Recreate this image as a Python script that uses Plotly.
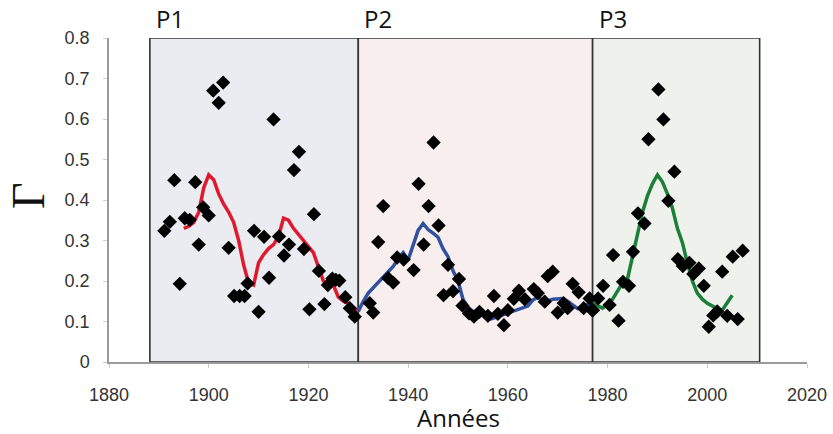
import plotly.graph_objects as go

# ---- scatter data (Gamma values per year) ----
pts_years = [1891.1, 1892.2, 1893.1, 1894.2, 1895.2, 1896.2, 1897.3, 1898.0, 1898.9, 1900.0,
             1900.9, 1902.0, 1902.9, 1904.0, 1905.1, 1906.2, 1907.2, 1907.8, 1909.1, 1910.0,
             1911.1, 1912.1, 1913.0, 1914.1, 1915.1, 1916.1, 1917.1, 1918.1, 1919.1, 1920.2,
             1921.1, 1922.1, 1923.2, 1923.9, 1924.8, 1925.5, 1926.2, 1927.4, 1928.3, 1929.3,
             1932.3, 1933.0, 1934.0, 1935.0, 1936.0, 1937.0, 1937.8, 1939.1, 1941.1, 1942.1,
             1943.1, 1944.1, 1945.1, 1946.1, 1947.1, 1948.0, 1949.0, 1950.2, 1950.9, 1952.2,
             1953.2, 1954.3, 1956.0, 1957.2, 1958.0, 1959.2, 1960.0, 1961.2, 1962.2, 1963.4,
             1965.2, 1966.0, 1967.4, 1968.0, 1969.0, 1970.0, 1971.2, 1972.0, 1973.0, 1974.2,
             1975.2, 1976.4, 1976.9,
             1977.1, 1978.1, 1979.1, 1980.4, 1981.1, 1982.2, 1983.1, 1984.3, 1985.1, 1986.1,
             1987.4, 1988.2, 1990.2, 1991.2, 1992.2, 1993.4, 1994.1, 1995.1, 1996.4, 1997.2,
             1998.3, 1999.3, 2000.3, 2001.2, 2002.0, 2003.0, 2004.0, 2005.1, 2006.1, 2007.1]
pts_values = [0.324, 0.346, 0.449, 0.193, 0.355, 0.351, 0.444, 0.290, 0.382, 0.362,
              0.670, 0.640, 0.690, 0.282, 0.163, 0.163, 0.163, 0.194, 0.324, 0.124,
              0.309, 0.208, 0.599, 0.310, 0.263, 0.290, 0.474, 0.519, 0.279, 0.130,
              0.365, 0.225, 0.143, 0.190, 0.206, 0.203, 0.201, 0.160, 0.133, 0.112,
              0.145, 0.122, 0.296, 0.385, 0.207, 0.196, 0.258, 0.253, 0.227, 0.440,
              0.290, 0.385, 0.542, 0.337, 0.165, 0.240, 0.175, 0.205, 0.139, 0.120,
              0.112, 0.124, 0.114, 0.163, 0.119, 0.091, 0.128, 0.156, 0.176, 0.155,
              0.180, 0.170, 0.149, 0.212, 0.223, 0.122, 0.145, 0.133, 0.193, 0.172,
              0.133, 0.157, 0.128,
              0.128, 0.157, 0.188, 0.141, 0.264, 0.102, 0.198, 0.188, 0.272, 0.367,
              0.342, 0.550, 0.673, 0.599, 0.398, 0.470, 0.254, 0.237, 0.245, 0.217,
              0.231, 0.188, 0.087, 0.115, 0.125, 0.223, 0.114, 0.260, 0.106, 0.275]

# ---- smoothed curves per period ----
p1_years = [1895, 1896, 1897, 1898, 1899, 1900, 1901, 1902, 1903, 1904, 1905, 1906,
            1907, 1908, 1909, 1910, 1911, 1912, 1913, 1914, 1915, 1916, 1917, 1918,
            1919, 1920, 1921, 1922, 1923, 1924, 1925, 1926, 1927, 1928, 1929, 1930]
p1_values = [0.330, 0.335, 0.345, 0.370, 0.430, 0.462, 0.450, 0.415, 0.390, 0.370, 0.345, 0.300,
             0.240, 0.195, 0.190, 0.245, 0.265, 0.280, 0.290, 0.310, 0.355, 0.350, 0.330, 0.315,
             0.300, 0.285, 0.270, 0.235, 0.200, 0.190, 0.190, 0.160, 0.150, 0.145, 0.135, 0.125]

p2_years = [1930, 1931, 1932, 1933, 1934, 1935, 1936, 1937, 1938, 1939, 1940, 1941,
            1942, 1943, 1944, 1945, 1946, 1947, 1948, 1949, 1950, 1951, 1952, 1953,
            1954, 1955, 1956, 1957, 1958, 1959, 1960, 1961, 1962, 1963, 1964, 1965,
            1966, 1967, 1968, 1969, 1970, 1971, 1972, 1973, 1974, 1975, 1976, 1977]
p2_values = [0.125, 0.150, 0.170, 0.183, 0.195, 0.210, 0.222, 0.236, 0.255, 0.270, 0.252, 0.290,
             0.325, 0.342, 0.327, 0.318, 0.308, 0.280, 0.260, 0.225, 0.200, 0.155, 0.135, 0.125,
             0.122, 0.115, 0.105, 0.108, 0.112, 0.117, 0.122, 0.126, 0.130, 0.134, 0.138, 0.153,
             0.160, 0.153, 0.151, 0.155, 0.155, 0.157, 0.150, 0.140, 0.132, 0.135, 0.142, 0.145]

p3_years = [1977, 1978, 1979, 1980, 1981, 1982, 1983, 1984, 1985, 1986, 1987, 1988,
            1989, 1990, 1991, 1992, 1993, 1994, 1995, 1996, 1997, 1998, 1999, 2000,
            2001, 2002, 2003, 2004, 2005]
p3_values = [0.145, 0.138, 0.133, 0.143, 0.155, 0.175, 0.195, 0.205, 0.260, 0.320, 0.370, 0.410,
             0.440, 0.462, 0.445, 0.415, 0.380, 0.330, 0.295, 0.245, 0.200, 0.170, 0.155, 0.145,
             0.138, 0.132, 0.128, 0.145, 0.165]

# ---- periods ----
period_labels = ["P1", "P2", "P3"]
period_start = [1888.2, 1930.0, 1977.0]
period_end = [1930.0, 1977.0, 2010.5]
period_fill = ["#ebecf2", "#f8eeee", "#eff1ec"]

x_ticks = [1880, 1900, 1920, 1940, 1960, 1980, 2000, 2020]
y_ticks = [0, 0.1, 0.2, 0.3, 0.4, 0.5, 0.6, 0.7, 0.8]
y_ticktext = ["0", "0.1", "0.2", "0.3", "0.4", "0.5", "0.6", "0.7", "0.8"]

L, R, T, B = 109, 26, 38, 72
W, H = 833, 434

fig = go.Figure()

shapes = []
annotations = []
for lab, s, e, c in zip(period_labels, period_start, period_end, period_fill):
    shapes.append(dict(type="rect", xref="x", yref="y", x0=s, x1=e, y0=0, y1=0.8,
                       fillcolor=c, line=dict(color="#333333", width=1.6), layer="below"))
    annotations.append(dict(x=s, y=0.8, xref="x", yref="y", text=lab, showarrow=False,
                            xanchor="left", yanchor="bottom", xshift=4, yshift=1,
                            font=dict(family="Open Sans", size=24, color="#111111")))

fig.add_trace(go.Scatter(x=p1_years, y=p1_values, mode="lines",
                         line=dict(color="#e01a2e", width=3.5), showlegend=False))
fig.add_trace(go.Scatter(x=p2_years, y=p2_values, mode="lines",
                         line=dict(color="#3050a0", width=3.5), showlegend=False))
fig.add_trace(go.Scatter(x=p3_years, y=p3_values, mode="lines",
                         line=dict(color="#1a8038", width=3.5), showlegend=False))
fig.add_trace(go.Scatter(x=pts_years, y=pts_values, mode="markers",
                         marker=dict(symbol="diamond", size=11, color="#000000"),
                         showlegend=False))

plot_w = W - L - R
plot_h = H - T - B
annotations.append(dict(x=(29 - L) / plot_w, y=(H - B - 196) / plot_h,
                        xref="paper", yref="paper", text="Γ", showarrow=False,
                        textangle=-90, xanchor="center", yanchor="middle",
                        font=dict(family="Liberation Serif", size=46, color="#111111")))
annotations.append(dict(x=0.5, y=(H - B - 417) / plot_h, xref="paper", yref="paper",
                        text="Années", showarrow=False, xanchor="center", yanchor="middle",
                        font=dict(family="Open Sans", size=24, color="#111111")))

fig.update_layout(
    width=W, height=H,
    margin=dict(l=L, r=R, t=T, b=B, autoexpand=False),
    paper_bgcolor="white", plot_bgcolor="white",
    shapes=shapes, annotations=annotations,
    xaxis=dict(range=[1880, 2020], tickvals=x_ticks, showgrid=False, zeroline=False,
               automargin=False,
               showline=True, linecolor="#9a9a9a", linewidth=1.5,
               ticks="outside", ticklen=4, tickcolor="#cccccc", ticklabelstandoff=12,
               tickfont=dict(family="Liberation Sans", size=18, color="#333333")),
    yaxis=dict(range=[0, 0.8], tickvals=y_ticks, ticktext=y_ticktext,
               showgrid=False, zeroline=False, automargin=False,
               showline=True, linecolor="#9a9a9a", linewidth=1.5,
               ticks="outside", ticklen=4, tickcolor="#cccccc", ticklabelstandoff=10,
               tickfont=dict(family="Liberation Sans", size=18, color="#333333")),
)

fig.write_html("out.html")
